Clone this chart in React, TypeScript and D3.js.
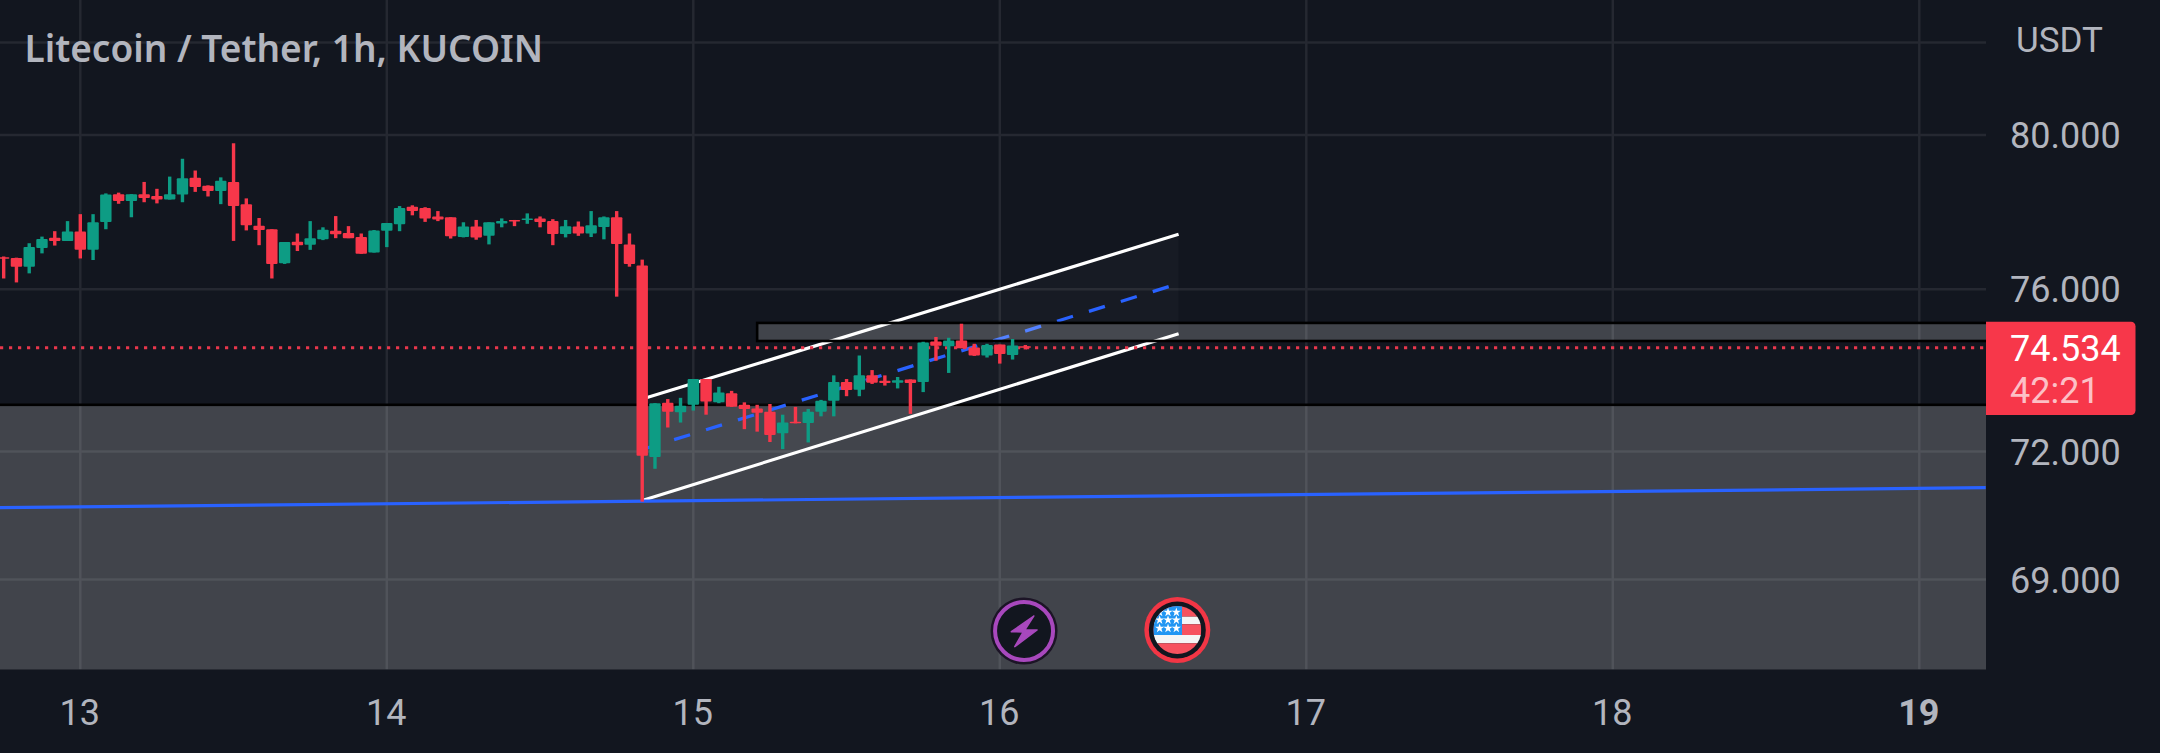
import * as d3 from 'd3'
import { useEffect, useRef } from 'react'

const firstCandle = -6 // hours relative to day 13, 00:00
const opens = [76.81, 76.79, 76.57, 77.05, 77.31, 77.23, 77.47, 77.0, 77.72, 78.44, 78.26, 78.44, 78.39, 78.3, 78.43, 78.87, 78.66, 78.52, 78.76, 78.18, 77.62, 77.53, 76.66, 77.21, 77.13, 77.27, 77.49, 77.43, 77.33, 76.93, 77.49, 77.66, 78.11, 78.08, 77.86, 77.84, 77.33, 77.6, 77.36, 77.68, 77.77, 77.77, 77.81, 77.74, 77.41, 77.6, 77.42, 77.59, 77.84, 77.14, 76.6, 71.87, 73.18, 72.95, 73.13, 73.76, 73.19, 73.41, 73.13, 73.04, 72.96, 72.44, 72.72, 72.69, 72.96, 73.23, 73.69, 73.5, 73.85, 73.72, 73.67, 73.75, 73.69, 74.69, 74.57, 74.71, 74.54, 74.34, 74.61, 74.35, 74.57]
const highs = [76.83, 76.8, 77.17, 77.34, 77.48, 77.74, 77.92, 77.92, 78.46, 78.48, 78.44, 78.76, 78.58, 78.9, 79.37, 79.06, 78.67, 78.88, 79.78, 78.33, 77.82, 77.53, 77.2, 77.42, 77.74, 77.58, 77.87, 77.61, 77.42, 77.51, 77.69, 78.13, 78.15, 78.1, 78.0, 77.84, 77.71, 77.77, 77.71, 77.81, 77.77, 77.94, 77.86, 77.79, 77.77, 77.73, 78.0, 77.86, 78.0, 77.42, 76.75, 73.17, 73.27, 73.3, 73.76, 73.76, 73.57, 73.47, 73.19, 73.13, 73.15, 72.89, 73.08, 73.03, 73.25, 73.85, 73.76, 74.34, 73.98, 73.85, 73.81, 73.75, 74.68, 74.8, 74.78, 75.13, 74.63, 74.63, 74.61, 74.75, 74.6]
const lows = [76.27, 76.17, 76.4, 76.91, 77.11, 77.23, 76.78, 76.74, 77.53, 78.19, 77.84, 78.23, 78.2, 78.3, 78.23, 78.5, 78.38, 78.18, 77.23, 77.5, 77.12, 76.27, 76.64, 76.97, 77.0, 77.25, 77.3, 77.3, 76.9, 76.93, 77.07, 77.48, 77.89, 77.72, 77.74, 77.29, 77.32, 77.26, 77.14, 77.58, 77.61, 77.67, 77.58, 77.12, 77.32, 77.36, 77.33, 77.27, 75.81, 76.57, 70.81, 71.59, 72.58, 72.7, 72.99, 72.89, 73.17, 73.08, 72.54, 72.48, 72.23, 72.06, 72.68, 72.22, 72.85, 72.85, 73.34, 73.34, 73.64, 73.6, 73.53, 72.91, 73.44, 74.21, 73.91, 74.52, 74.33, 74.29, 74.14, 74.24, 74.49]
const closes = [76.78, 76.57, 77.07, 77.28, 77.23, 77.47, 77.0, 77.71, 78.43, 78.26, 78.44, 78.34, 78.3, 78.44, 78.86, 78.63, 78.52, 78.79, 78.13, 77.63, 77.51, 76.64, 77.2, 77.12, 77.3, 77.52, 77.4, 77.3, 76.9, 77.5, 77.69, 78.08, 78.0, 77.81, 77.78, 77.35, 77.6, 77.32, 77.71, 77.74, 77.73, 77.81, 77.72, 77.41, 77.61, 77.42, 77.63, 77.84, 77.15, 76.64, 71.9, 73.17, 72.96, 73.11, 73.76, 73.21, 73.43, 73.08, 73.03, 72.94, 72.4, 72.7, 72.69, 72.96, 73.23, 73.69, 73.49, 73.85, 73.67, 73.66, 73.73, 73.66, 74.66, 74.58, 74.71, 74.52, 74.34, 74.6, 74.38, 74.59, 74.534]

const priceTicks = [80, 76, 72, 69]
const topGridPrice = 82.5
const dayTicks = [13, 14, 15, 16, 17, 18, 19]
const lastPrice = 74.534
const countdown = '42:21'

// drawings, as [hour, price]
const channelUpper: [number, number][] = [[44, 73.27], [86, 77.4]]
const channelMiddle: [number, number][] = [[44, 72.05], [86, 76.14]]
const channelLower: [number, number][] = [[44, 70.84], [86, 74.88]]
const blueLine: [number, number][] = [[-6.29, 70.67], [149.2, 71.14]]
const upperZone = { from: 53, top: 75.15, bottom: 74.7 }
const lowerZoneTop = 73.13
const eventHours = [73.9, 85.9]

const WIDTH = 2160
const HEIGHT = 753
const paneRight = 1986
const paneBottom = 669.5
const bg = '#12161f'
const gridColor = '#252831'
const upColor = '#0d9c84'
const downColor = '#f7374a'
const textColor = '#b2b5be'

const App = () => {
  const ref = useRef<SVGSVGElement>(null)

  useEffect(() => {
    if (!ref.current) return
    const svg = d3.select(ref.current)
    svg.selectAll('*').remove()

    const x = d3.scaleLinear().domain([0, 24]).range([80.3, 386.8])
    const y = d3.scaleLog().domain([80, 69]).range([135, 579.5])
    const dayX = (d: number) => x((d - 13) * 24)
    const line = d3.line<[number, number]>()
      .x(d => x(d[0]))
      .y(d => y(d[1]))

    svg.append('rect').attr('width', WIDTH).attr('height', HEIGHT).attr('fill', bg)

    svg.append('clipPath').attr('id', 'pane')
      .append('rect').attr('width', paneRight).attr('height', paneBottom)
    const pane = svg.append('g').attr('clip-path', 'url(#pane)')

    // Grid
    pane.selectAll('.h-grid')
      .data([...priceTicks, topGridPrice])
      .enter()
      .append('line')
      .attr('x1', 0)
      .attr('x2', paneRight)
      .attr('y1', d => y(d))
      .attr('y2', d => y(d))
      .attr('stroke', gridColor)
      .attr('stroke-width', 2.5)
    pane.selectAll('.v-grid')
      .data(dayTicks)
      .enter()
      .append('line')
      .attr('x1', d => dayX(d))
      .attr('x2', d => dayX(d))
      .attr('y1', 0)
      .attr('y2', paneBottom)
      .attr('stroke', gridColor)
      .attr('stroke-width', 2.5)

    // Lower zone
    pane.append('rect')
      .attr('x', -5)
      .attr('y', y(lowerZoneTop))
      .attr('width', paneRight + 10)
      .attr('height', paneBottom + 5 - y(lowerZoneTop))
      .attr('fill', 'rgba(255,255,255,0.2)')
      .attr('stroke', '#000')
      .attr('stroke-width', 2.6)

    // Channel
    const channelArea = [...channelUpper, ...[...channelLower].reverse()]
    pane.append('path')
      .attr('d', `${line(channelArea)}Z`)
      .attr('fill', 'rgba(255,255,255,0.025)')
    ;[channelUpper, channelLower].forEach(points => {
      pane.append('path')
        .attr('d', line(points))
        .attr('fill', 'none')
        .attr('stroke', '#fff')
        .attr('stroke-width', 3.2)
    })
    pane.append('path')
      .attr('d', line(channelMiddle))
      .attr('fill', 'none')
      .attr('stroke', '#2962ff')
      .attr('stroke-width', 3.3)
      .attr('stroke-dasharray', '16.7 16.7')

    pane.append('path')
      .attr('d', line(blueLine))
      .attr('fill', 'none')
      .attr('stroke', '#2962ff')
      .attr('stroke-width', 3.2)

    // Upper zone
    pane.append('rect')
      .attr('x', x(upperZone.from))
      .attr('y', y(upperZone.top))
      .attr('width', paneRight + 10 - x(upperZone.from))
      .attr('height', y(upperZone.bottom) - y(upperZone.top))
      .attr('fill', 'rgba(255,255,255,0.2)')
      .attr('stroke', '#000')
      .attr('stroke-width', 2.6)

    // Last price line
    pane.append('line')
      .attr('x1', 0)
      .attr('x2', paneRight)
      .attr('y1', y(lastPrice))
      .attr('y2', y(lastPrice))
      .attr('stroke', '#e8374c')
      .attr('stroke-width', 3)
      .attr('stroke-dasharray', '3.2 5.8')

    // Candles
    const candles = closes.map((c, i) => ({
      hour: firstCandle + i,
      open: opens[i],
      high: highs[i],
      low: lows[i],
      close: c
    }))
    const candle = pane.selectAll('.candle')
      .data(candles)
      .enter()
      .append('g')
      .attr('fill', d => (d.close >= d.open ? upColor : downColor))
    candle.append('rect')
      .attr('x', d => x(d.hour) - 1.7)
      .attr('width', 3.4)
      .attr('y', d => y(d.high))
      .attr('height', d => y(d.low) - y(d.high))
    candle.append('rect')
      .attr('x', d => x(d.hour) - 5.7)
      .attr('width', 11.4)
      .attr('y', d => y(Math.max(d.open, d.close)))
      .attr('height', d => Math.max(1.5, Math.abs(y(d.open) - y(d.close))))
      .attr('rx', 1)

    // Event icons
    const bolt = d3.line()([[9.7, -15], [-12.7, 0.7], [-1, 1], [-9.3, 15.7], [13, -1], [0.7, -1]])
    const flash = svg.append('g').attr('transform', `translate(${x(eventHours[0])},631)`)
    flash.append('circle').attr('r', 33.5).attr('fill', '#1c1426')
    flash.append('circle').attr('r', 29).attr('fill', bg).attr('stroke', '#a848bd').attr('stroke-width', 4)
    flash.append('path').attr('d', `${bolt}Z`).attr('fill', '#a848bd').attr('stroke', '#a848bd').attr('stroke-width', 1.5).attr('stroke-linejoin', 'round')

    const flag = svg.append('g').attr('transform', `translate(${x(eventHours[1])},630)`)
    flag.append('circle').attr('r', 33).attr('fill', '#f23645')
    flag.append('circle').attr('r', 28.5).attr('fill', bg)
    svg.append('clipPath').attr('id', 'flag').append('circle').attr('r', 24)
    const flagBody = flag.append('g').attr('clip-path', 'url(#flag)')
    const stripes: [number, number, string][] = [
      [-24, -13.3, '#f7525f'],
      [-13.3, -5.7, '#f5f5f5'],
      [-5.7, 5, '#f7525f'],
      [5, 13.3, '#f5f5f5'],
      [13.3, 24, '#f7525f']
    ]
    stripes.forEach(([from, to, color]) => {
      flagBody.append('rect').attr('x', -24).attr('y', from).attr('width', 48).attr('height', to - from).attr('fill', color)
    })
    flagBody.append('rect').attr('x', -24).attr('y', -24).attr('width', 28.7).attr('height', 29).attr('fill', '#2196f3')
    const star = d3.symbol(d3.symbolStar, 26)()
    ;[-17.7, -10, -1.7].forEach(sy => {
      ;[-17.7, -9.3, -1].forEach(sx => {
        flagBody.append('path').attr('d', star).attr('transform', `translate(${sx},${sy})`).attr('fill', '#fff')
      })
    })

    // Axes
    const priceAxis = svg.append('g')
      .attr('transform', `translate(2010,0)`)
      .call(d3.axisRight(y).tickValues(priceTicks).tickFormat(d3.format('.3f')).tickSize(0).tickPadding(0))
    priceAxis.select('.domain').remove()
    priceAxis.selectAll('text')
      .attr('dy', '0.35em')
      .style('font-family', 'Roboto')
      .style('font-size', '36px')
      .style('fill', textColor)

    const timeAxis = svg.append('g')
      .attr('transform', `translate(-1,${paneBottom})`)
      .call(d3.axisBottom(d3.scaleLinear().domain([13, 19]).range([dayX(13), dayX(19)]))
        .tickValues(dayTicks)
        .tickFormat(d3.format('d'))
        .tickSize(0)
        .tickPadding(0))
    timeAxis.select('.domain').remove()
    timeAxis.selectAll('text')
      .attr('y', 55.5)
      .attr('dy', 0)
      .style('font-family', 'Roboto')
      .style('font-size', '36px')
      .style('fill', textColor)
      .style('font-weight', d => (d === 19 ? 700 : 400))

    svg.append('text')
      .attr('x', 2016)
      .attr('y', 51.5)
      .style('font-family', 'Roboto')
      .style('font-size', '35px')
      .style('fill', textColor)
      .text('USDT')

    // Title
    svg.append('text')
      .attr('x', 24.5)
      .attr('y', 61.5)
      .style('font-family', '"Noto Sans"')
      .style('font-size', '37px')
      .style('font-weight', 600)
      .style('fill', textColor)
      .text('Litecoin / Tether, 1h, KUCOIN')

    // Last price tag
    svg.append('path')
      .attr('d', 'M1986,321.7H2131a4.5,4.5 0 0 1 4.5,4.5V410.5a4.5,4.5 0 0 1 -4.5,4.5H1986Z')
      .attr('fill', downColor)
    svg.append('text')
      .attr('x', 2010)
      .attr('y', 361)
      .style('font-family', 'Roboto')
      .style('font-size', '36px')
      .style('fill', '#fff')
      .text(d3.format('.3f')(lastPrice))
    svg.append('text')
      .attr('x', 2010)
      .attr('y', 403)
      .style('font-family', 'Roboto')
      .style('font-size', '36px')
      .style('fill', 'rgba(255,255,255,0.7)')
      .text(countdown)
  }, [])

  return (
    <svg
      ref={ref}
      width={WIDTH}
      height={HEIGHT}
      style={{ position: 'fixed', left: 0, top: 0, display: 'block' }}
    />
  )
}

export default App
